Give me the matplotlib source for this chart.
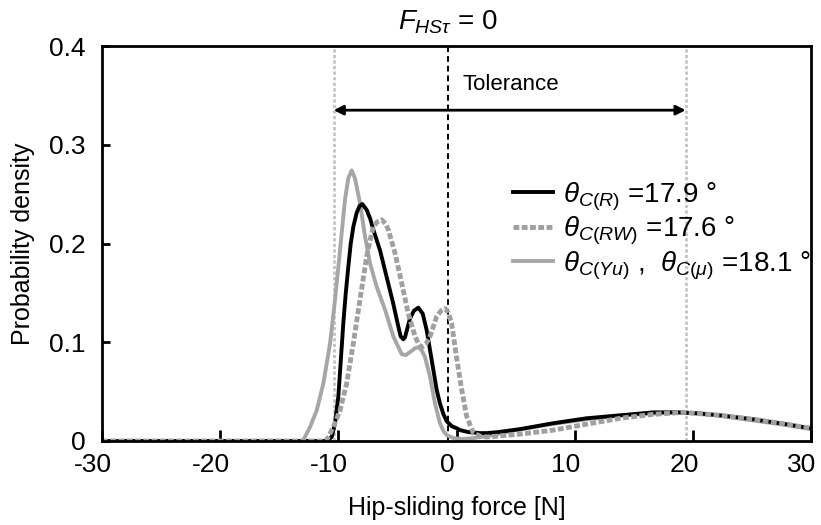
import matplotlib
matplotlib.use("Agg")
import matplotlib.pyplot as plt
from matplotlib.transforms import ScaledTranslation

plt.rcParams['font.family'] = ['Liberation Sans', 'DejaVu Sans']
plt.rcParams['mathtext.fontset'] = 'custom'
plt.rcParams['mathtext.rm'] = 'Liberation Sans'
plt.rcParams['mathtext.it'] = 'Liberation Sans:italic'
plt.rcParams['mathtext.bf'] = 'Liberation Sans:bold'

# ---- data ----
x_R = [-30, -11.0, -10.56, -10.28, -10.0, -9.8, -9.58, -9.37, -9.16, -8.95, -8.73,
       -8.45, -8.2, -7.97, -7.6, -7.3, -7.04, -6.47, -5.91, -5.35, -5.0, -4.73,
       -4.5, -4.36, -3.94, -3.6, -3.23, -2.86, -2.52, -2.24, -1.96, -1.68, -1.40,
       -1.1, -0.83, -0.4, 0.0, 0.3, 1.0, 2.0, 2.55, 3.5, 5.37, 8.19, 11.0, 13.84,
       16.65, 18.63, 20.5, 22.3, 25.1, 27.9, 29.9]
y_R = [0, 0, 0.004, 0.018, 0.045, 0.08, 0.119, 0.150, 0.176, 0.200, 0.217,
       0.231, 0.238, 0.240, 0.234, 0.225, 0.214, 0.193, 0.166, 0.139, 0.120, 0.106,
       0.103, 0.105, 0.124, 0.132, 0.135, 0.129, 0.112, 0.092, 0.072, 0.052, 0.038,
       0.027, 0.020, 0.015, 0.013, 0.011, 0.009, 0.008, 0.008, 0.009, 0.012, 0.018,
       0.023, 0.026, 0.029, 0.029, 0.028, 0.026, 0.022, 0.017, 0.013]

x_RW = [-30, -11.3, -10.99, -10.43, -9.86, -9.3, -8.73, -8.17, -7.6, -7.3, -7.04,
        -6.7, -6.33, -6.0, -5.77, -5.2, -4.64, -4.08, -3.51, -3.2, -2.95, -2.6,
        -2.24, -1.68, -1.3, -0.97, -0.7, -0.41, 0.0, 0.44, 0.86, 1.42, 2.0, 2.55,
        3.5, 5.37, 8.19, 11.0, 13.84, 16.65, 19.19, 22.3, 25.1, 27.9, 29.9]
y_RW = [0, 0, 0.001, 0.014, 0.031, 0.058, 0.099, 0.143, 0.187, 0.204, 0.217,
        0.222, 0.224, 0.220, 0.214, 0.190, 0.160, 0.129, 0.106, 0.098, 0.095, 0.098,
        0.106, 0.126, 0.132, 0.134, 0.130, 0.119, 0.085, 0.052, 0.025, 0.008, 0.005,
        0.004, 0.005, 0.007, 0.011, 0.017, 0.023, 0.027, 0.029, 0.026, 0.022, 0.017,
        0.013]

x_Yu = [-30, -13.3, -12.96, -12.4, -11.83, -11.27, -10.7, -10.28, -9.86, -9.44,
        -9.16, -8.87, -8.59, -8.17, -7.74, -7.32, -6.75, -6.05, -5.35, -4.64,
        -4.3, -3.94, -3.5, -3.23, -2.95, -2.67, -2.24, -1.82, -1.40, -1.1, -0.83,
        -0.27, 0.5, 1.5, 3.0, 5.0, 8.0, 11.0, 14.0, 17.0, 19.0, 22.0, 25.0, 28.0,
        30.0]
y_Yu = [0, 0, 0.001, 0.014, 0.031, 0.058, 0.099, 0.143, 0.193, 0.244, 0.266,
        0.274, 0.266, 0.241, 0.207, 0.180, 0.156, 0.133, 0.106, 0.088, 0.087,
        0.090, 0.094, 0.095, 0.092, 0.085, 0.065, 0.038, 0.018, 0.010, 0.006,
        0.003, 0.002, 0.003, 0.006, 0.011, 0.017, 0.022, 0.026, 0.028, 0.029,
        0.026, 0.021, 0.016, 0.012]

labels = [r'$\theta_{C(R)}$ =17.9 °',
          r'$\theta_{C(RW)}$ =17.6 °',
          r'$\theta_{C(Yu)}$ ,  $\theta_{C(\mu)}$ =18.1 °']

x_ticks = [-30, -20, -10, 0, 10, 20, 30]
y_ticks = [0, 0.1, 0.2, 0.3, 0.4]
y_tick_labels = ['0', '0.1', '0.2', '0.3', '0.4']

zero_line_x = -0.7            # F_HSτ = 0 reference line (as drawn)
tol_lo, tol_hi = -10.4, 19.4  # tolerance limits (as drawn)
arrow_y = 0.335

# ---- figure ----
fig = plt.figure(figsize=(8.21, 5.25), dpi=100)
ax = fig.add_axes([102/821, 84/525, 709/821, 395/525])

l_yu, = ax.plot(x_Yu, y_Yu, color='#a6a6a6', lw=2.8, zorder=3)
l_r, = ax.plot(x_R, y_R, color='black', lw=2.8, zorder=4)
l_rw, = ax.plot(x_RW, y_RW, color='#a0a0a0', lw=3.5, zorder=5, dashes=(1.2, 0.5))

# reference lines
ax.axvline(tol_lo, color='#c4c4c4', lw=2.0, dashes=(1.2, 0.8), zorder=2)
ax.axvline(tol_hi, color='#c4c4c4', lw=2.0, dashes=(1.2, 0.8), zorder=2)
ax.axvline(zero_line_x, color='black', lw=1.4, dashes=(3, 2), zorder=2)

ax.annotate('', xy=(tol_hi, arrow_y), xytext=(tol_lo, arrow_y),
            arrowprops=dict(arrowstyle='<|-|>', color='black', lw=2.0,
                            mutation_scale=14, shrinkA=0, shrinkB=0), zorder=6)
ax.text(0.5, 0.3615, 'Tolerance', fontsize=16, ha='left', va='center')

ax.text(zero_line_x, 0.41, r'$F_{HS\tau}$ = 0', fontsize=20, ha='center', va='bottom')

ax.set_xlim(-30, 30)
ax.set_ylim(0, 0.4)
ax.set_xticks(x_ticks)
ax.set_xticklabels([str(t) for t in x_ticks])
ax.set_yticks(y_ticks)
ax.set_yticklabels(y_tick_labels)
ax.tick_params(axis='x', direction='in', length=8, width=2, labelsize=19, pad=9)
ax.tick_params(axis='y', direction='in', length=6, width=2, labelsize=19, pad=12)
shift = ScaledTranslation(-9/100, 0, fig.dpi_scale_trans)
for lab in ax.get_xticklabels():
    lab.set_transform(lab.get_transform() + shift)
for s in ax.spines.values():
    s.set_linewidth(2.0)
    s.set_zorder(7)

ax.set_xlabel('Hip-sliding force [N]', fontsize=18, labelpad=13)
ax.set_ylabel('Probability density', fontsize=18, labelpad=10)

leg = ax.legend([l_r, l_rw, l_yu], labels, loc='upper left',
                bbox_to_anchor=(0.58, 0.66), frameon=False, fontsize=20,
                handlelength=1.45, handletextpad=0.36, labelspacing=0.08,
                borderaxespad=0, borderpad=0)

fig.savefig('out.png', dpi=100)
